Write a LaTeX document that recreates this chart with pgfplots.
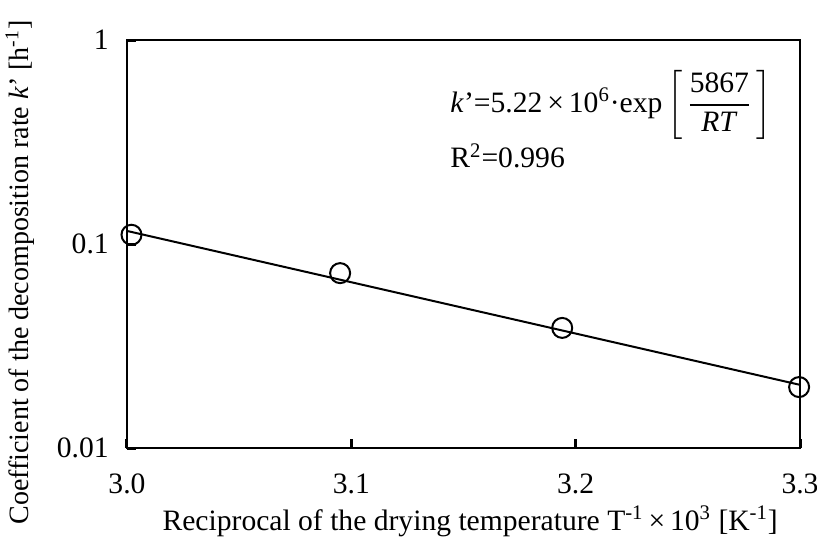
\documentclass[border=0pt]{standalone}
\usepackage{fontspec}
\setmainfont{Liberation Serif}
\usepackage{amsmath}
\usepackage{pgfplots}
\pgfplotsset{compat=1.18}
\begin{document}
\fontsize{14.8}{17}\selectfont
\begin{tikzpicture}
\useasboundingbox (-63.5pt,-44.5pt) rectangle (345pt,224pt);
\begin{axis}[
    at={(0,0)}, anchor=south west,
    scale only axis,
    width=336.5pt, height=204pt,
    ymode=log,
    xmin=3.0, xmax=3.3, ymin=0.01, ymax=1,
    xtick={3.0,3.1,3.2,3.3}, xticklabels={3.0,3.1,3.2,3.3},
    ytick={0.01,0.1,1}, yticklabels={0.01,0.1,1},
    yminorticks=false,
    tick align=inside, xtick pos=bottom, ytick pos=left,
    major tick length=4.5pt,
    tick style={line width=1.5pt, black},
    axis line style={line width=1.3pt},
    /pgf/number format/assume math mode=true,
    xticklabel style={yshift=-8pt},
    yticklabel style={xshift=-4pt},
    xlabel={Reciprocal of the drying temperature T\textsuperscript{-1}\,×\,10\textsuperscript{3} [K\textsuperscript{-1}]},
    ylabel={Coefficient of the decomposition rate \textit{k}' [h\textsuperscript{-1}]},
    xlabel style={at={(axis description cs:0.51,-0.18)}, anchor=center},
    ylabel style={at={(axis description cs:-0.159,0.43)}, anchor=center,
        font=\fontsize{14}{16}\selectfont},
    clip=false,
]
\addplot[black, line width=1pt] coordinates {(3.0,0.1159) (3.3,0.0204)};
\addplot[only marks, mark=o, mark size=5pt, mark options={line width=1pt}, black]
    coordinates {(3.002,0.111) (3.095,0.072) (3.194,0.0388) (3.2996,0.0199)};
\node[anchor=west, inner sep=0pt] at (axis cs:3.144,0.48)
    {\textit{k}'=5.22\,×\,10\textsuperscript{6}·exp\,$\left[\,\dfrac{\text{5867}}{\text{\textit{RT}}}\,\right]$};
\node[anchor=west, inner sep=0pt] at (axis cs:3.144,0.27) {R\textsuperscript{2}=0.996};
\end{axis}
\end{tikzpicture}
\end{document}
